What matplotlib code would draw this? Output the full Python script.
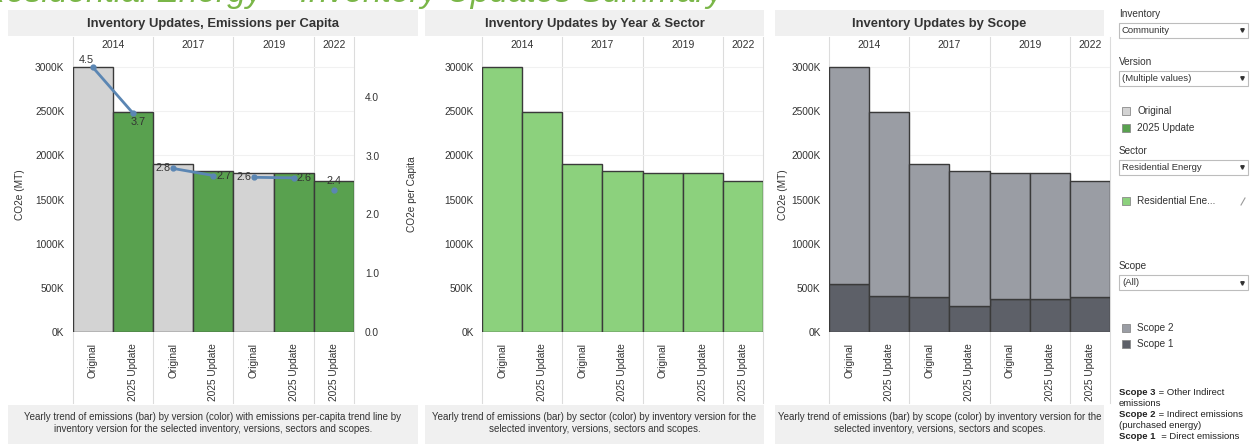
import numpy as np
import matplotlib.pyplot as plt
from matplotlib.patches import Rectangle
from matplotlib.ticker import FuncFormatter

plt.rcParams['font.family'] = ['Liberation Sans', 'DejaVu Sans']

W, H = 1252, 444

# data
versions = ['Original', '2025 Update', 'Original', '2025 Update', 'Original', '2025 Update', '2025 Update']
years = ['2014', '2017', '2019', '2022']
year_bars = [2, 2, 2, 1]
total_k = [3000, 2490, 1900, 1820, 1805, 1805, 1705]
scope1_k = [540, 410, 395, 300, 375, 375, 395]
per_capita = [4.50, 3.72, 2.78, 2.66, 2.63, 2.62, 2.42]

TXT = '#333333'
GRID = '#f1f1f1'
SEP = '#dcdcdc'
BOX = '#f0f0f0'
EDGE = '#3a3a3a'
c_orig = '#d3d3d3'
c_upd = '#59a14f'
c_sector = '#8cd17d'
c_s2 = '#9a9da4'
c_s1 = '#5d6068'
c_line = '#5b86b3'


def frac(l, t, r, b):
    return [l / W, 1 - b / H, (r - l) / W, (b - t) / H]


fig = plt.figure(figsize=(W / 100, H / 100), dpi=100)
bg = fig.add_axes([0, 0, 1, 1])
bg.set_xlim(0, W)
bg.set_ylim(H, 0)
bg.axis('off')

# page heading, scrolled mostly out of view
bg.text(-18, 2, 'Residential Energy \u2013 Inventory Updates Summary', fontsize=24,
        style='italic', color='#7ab648', va='baseline', ha='left')

PLOT_TOP, PLOT_BOT = 57, 332
y_max = 3000 * (PLOT_BOT - PLOT_TOP) / (PLOT_BOT - 67)
pc_max = (PLOT_BOT - PLOT_TOP) / ((PLOT_BOT - 96.7) / 4.0)

panels = [
    dict(box=(8, 418), plot=(72.7, 354), title='Inventory Updates, Emissions per Capita',
         ylabel_x=20,
         caption='Yearly trend of emissions (bar) by version (color) with emissions per-capita trend line by\n'
                 'inventory version for the selected inventory, versions, sectors and scopes.'),
    dict(box=(425, 764), plot=(482, 763), title='Inventory Updates by Year & Sector',
         ylabel_x=None,
         caption='Yearly trend of emissions (bar) by sector (color) by inventory version for the\n'
                 'selected inventory, versions, sectors and scopes.'),
    dict(box=(775, 1104), plot=(829, 1110), title='Inventory Updates by Scope',
         ylabel_x=783,
         caption='Yearly trend of emissions (bar) by scope (color) by inventory version for the\n'
                 'selected inventory, versions, sectors and scopes.'),
]

x = np.arange(len(total_k))
axes = []
for p in panels:
    l, r = p['box']
    pl, pr = p['plot']
    bg.add_patch(Rectangle((l, 10), r - l, 26.5, color=BOX, lw=0))
    bg.text((l + r) / 2, 23.5, p['title'], fontsize=9.4, fontweight='bold', color=TXT,
            ha='center', va='center')
    bg.add_patch(Rectangle((l, 405), r - l, 39, color=BOX, lw=0))
    bg.text((l + r) / 2, 423, p['caption'], fontsize=7.0, color=TXT, ha='center',
            va='center', linespacing=1.3)

    # year header and separators
    bw = (pr - pl) / len(total_k)
    edges = [pl]
    start = 0
    for yr, n in zip(years, year_bars):
        x0 = pl + start * bw
        x1 = x0 + n * bw
        bg.text((x0 + x1) / 2, 45, yr, fontsize=7.5, color=TXT, ha='center', va='center')
        edges.append(x1)
        start += n
    for e in edges:
        bg.plot([e, e], [37, 403], color=SEP, lw=0.8, zorder=0)

    ax = fig.add_axes(frac(pl, PLOT_TOP, pr, PLOT_BOT))
    ax.set_facecolor('none')
    ax.set_xlim(-0.5, len(total_k) - 0.5)
    ax.set_ylim(0, y_max)
    for s in ax.spines.values():
        s.set_visible(False)
    ax.set_yticks(np.arange(0, 3001, 500))
    ax.yaxis.set_major_formatter(FuncFormatter(lambda v, _: f'{v:.0f}K'))
    ax.yaxis.grid(True, color=GRID, lw=0.8)
    ax.set_axisbelow(True)
    ax.set_xticks(x)
    ax.set_xticklabels(versions, rotation=90)
    ax.tick_params(length=0, labelsize=7.3, colors=TXT, pad=6)
    ax.tick_params(axis='x', pad=8)
    if p['ylabel_x'] is not None:
        bg.text(p['ylabel_x'], 195, 'CO2e (MT)', rotation=90,
                fontsize=7.3, color=TXT, ha='center', va='center')
    axes.append(ax)

ax1, ax2, ax3 = axes

# emissions by version, with per capita line
bar_cols = [c_orig if v == 'Original' else c_upd for v in versions]
ax1.bar(x, total_k, width=1.0, color=bar_cols, edgecolor=EDGE, lw=1, zorder=2)
axr = ax1.twinx()
axr.set_ylim(0, pc_max)
axr.set_yticks(np.arange(0, 4.1, 1.0))
axr.yaxis.set_major_formatter(FuncFormatter(lambda v, _: f'{v:.1f}'))
axr.tick_params(length=0, labelsize=7.3, colors=TXT, pad=8)
for s in axr.spines.values():
    s.set_visible(False)
axr.set_ylabel('CO2e per Capita', fontsize=7.3, color=TXT, labelpad=20)
start = 0
for n in year_bars:
    idx = list(range(start, start + n))
    axr.plot(x[idx], [per_capita[i] for i in idx], color=c_line, lw=2,
             marker='o', ms=3.5, zorder=3)
    start += n
label_offsets = [(-5, 5), (4, -6), (-7, 0), (7.5, 0), (-7, 0), (7.5, 0), (0, 6.5)]
for xi, v, off in zip(x, per_capita, label_offsets):
    axr.annotate(f'{v:.1f}', (xi, v), xytext=off, textcoords='offset points',
                 fontsize=7.8, color=TXT, ha='center', va='center')

# emissions by sector
ax2.bar(x, total_k, width=1.0, color=c_sector, edgecolor=EDGE, lw=1, zorder=2)

# emissions by scope
scope2_k = [t - s for t, s in zip(total_k, scope1_k)]
ax3.bar(x, scope1_k, width=1.0, color=c_s1, edgecolor=EDGE, lw=1, zorder=2)
ax3.bar(x, scope2_k, bottom=scope1_k, width=1.0, color=c_s2, edgecolor=EDGE, lw=1, zorder=2)

# filters and legends
SX = 1119


def dropdown(y, label):
    bg.add_patch(Rectangle((SX, y), 1248 - SX, 15, facecolor='white', edgecolor='#bdbdbd', lw=0.8))
    bg.text(SX + 3, y + 7.5, label, fontsize=6.8, color=TXT, va='center')
    bg.plot([1242], [y + 7.5], marker='v', ms=2.5, color='#333333')


def swatch(y, color, label):
    bg.add_patch(Rectangle((SX + 3, y - 4), 8, 8, facecolor=color, edgecolor='#8a8a8a', lw=0.6))
    bg.text(SX + 18, y, label, fontsize=7.2, color=TXT, va='center')


bg.text(SX, 14, 'Inventory', fontsize=7.2, color=TXT, va='center')
dropdown(23, 'Community')
bg.text(SX, 62, 'Version', fontsize=7.2, color=TXT, va='center')
dropdown(71, '(Multiple values)')
swatch(111, c_orig, 'Original')
swatch(128, c_upd, '2025 Update')
bg.text(SX, 151, 'Sector', fontsize=7.2, color=TXT, va='center')
dropdown(160, 'Residential Energy')
swatch(201, c_sector, 'Residential Ene...')
bg.plot([1241, 1245], [205, 198], color='#9a9a9a', lw=0.8)
bg.text(SX, 266, 'Scope', fontsize=7.2, color=TXT, va='center')
dropdown(275, '(All)')
swatch(328, c_s2, 'Scope 2')
swatch(344, c_s1, 'Scope 1')

renderer = fig.canvas.get_renderer()
notes = [(392, 'Scope 3', ' = Other Indirect'), (403, None, 'emissions'),
         (414, 'Scope 2', ' = Indirect emissions'), (425, None, '(purchased energy)'),
         (436, 'Scope 1', '  = Direct emissions')]
for y, bold, rest in notes:
    xx = SX
    if bold:
        t = bg.text(xx, y, bold, fontsize=6.8, fontweight='bold', color='#222222', va='center')
        ext = t.get_window_extent(renderer)
        xx += ext.width
    bg.text(xx, y, rest, fontsize=6.8, color='#222222', va='center')

fig.savefig('out.png', dpi=100)
